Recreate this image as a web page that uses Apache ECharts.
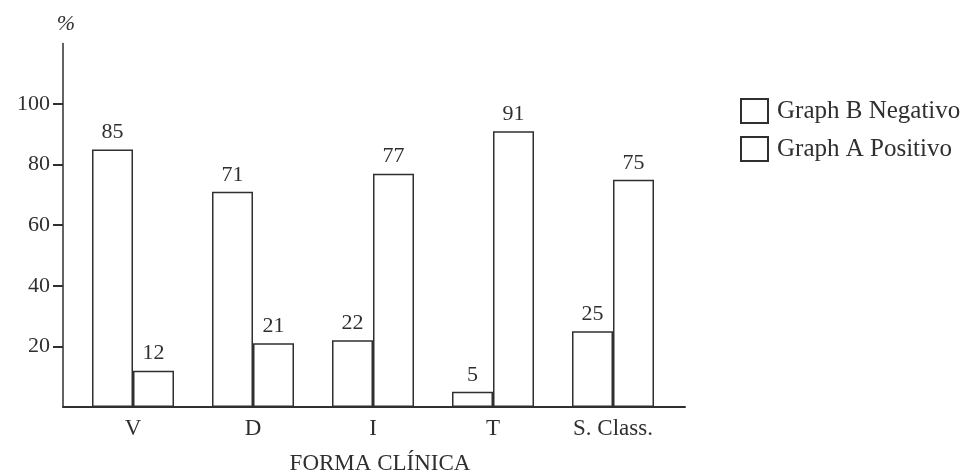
<!DOCTYPE html>
<html>
<head>
<meta charset="utf-8">
<script src="https://cdn.jsdelivr.net/npm/echarts@6/dist/echarts.min.js"></script>
<style>
html,body{margin:0;padding:0;background:#fff;}
#chart{width:968px;height:473px;}
</style>
</head>
<body>
<div id="chart"></div>
<script>
var categories = ['V', 'D', 'I', 'T', 'S. Class.'];
var seriesNames = ['Graph B Negativo', 'Graph A Positivo'];
var negativoValues = [85, 71, 22, 5, 25];
var positivoValues = [12, 21, 77, 91, 75];
var yTickValues = [20, 40, 60, 80, 100];
var yMin = 0, yMax = 120;

var ink = '#2f2f2f';
var serif = 'Liberation Serif';

var chart = echarts.init(document.getElementById('chart'));

var barStyle = { color: '#ffffff', borderColor: ink, borderWidth: 1.5 };
var labelStyle = {
  show: true, position: 'top', distance: 6,
  color: ink, fontFamily: serif, fontSize: 22
};

chart.setOption({
  animation: false,
  backgroundColor: '#ffffff',
  grid: [
    { left: 63, top: 43.4, width: 622, height: 363.6, outerBoundsMode: 'none', containLabel: false },
    { left: 73, top: 43.4, width: 600, height: 363.6, outerBoundsMode: 'none', containLabel: false }
  ],
  xAxis: [
    {
      gridIndex: 0, type: 'value', min: 0, max: 1,
      axisLine: { show: true, lineStyle: { color: ink, width: 2 } },
      axisTick: { show: false }, axisLabel: { show: false }, splitLine: { show: false }
    },
    {
      gridIndex: 1, type: 'category', data: categories,
      axisLine: { show: false }, axisTick: { show: false },
      axisLabel: { color: ink, fontFamily: serif, fontSize: 23, margin: 10 },
      name: 'FORMA CLÍNICA', nameLocation: 'middle', nameGap: 45,
      nameTextStyle: { color: ink, fontFamily: serif, fontSize: 23, padding: [0, 0, 0, 14] }
    }
  ],
  yAxis: [
    {
      gridIndex: 0, type: 'value', min: yMin, max: yMax,
      axisLine: { show: true, lineStyle: { color: ink, width: 1.5 } },
      axisTick: { show: true, length: 10, customValues: yTickValues, lineStyle: { color: ink, width: 2 } },
      axisLabel: { customValues: yTickValues, color: ink, fontFamily: serif, fontSize: 22, margin: 13 },
      splitLine: { show: false },
      name: '%', nameLocation: 'end', nameGap: 8,
      nameTextStyle: { color: ink, fontFamily: serif, fontSize: 22, fontStyle: 'italic', padding: [0, 0, 0, 6] }
    },
    {
      gridIndex: 1, type: 'value', min: yMin, max: yMax, show: false
    }
  ],
  legend: {
    orient: 'vertical', left: 735, top: 93, itemGap: 12,
    itemWidth: 27, itemHeight: 24, icon: 'rect',
    data: seriesNames,
    textStyle: { color: ink, fontFamily: serif, fontSize: 25, padding: [0, 0, 0, 4] }
  },
  series: [
    {
      name: seriesNames[0], type: 'bar', xAxisIndex: 1, yAxisIndex: 1,
      data: negativoValues, barWidth: 41, barGap: '0%',
      itemStyle: barStyle, label: labelStyle
    },
    {
      name: seriesNames[1], type: 'bar', xAxisIndex: 1, yAxisIndex: 1,
      data: positivoValues, barWidth: 41, barGap: '0%',
      itemStyle: barStyle, label: labelStyle
    }
  ]
});
</script>
</body>
</html>
